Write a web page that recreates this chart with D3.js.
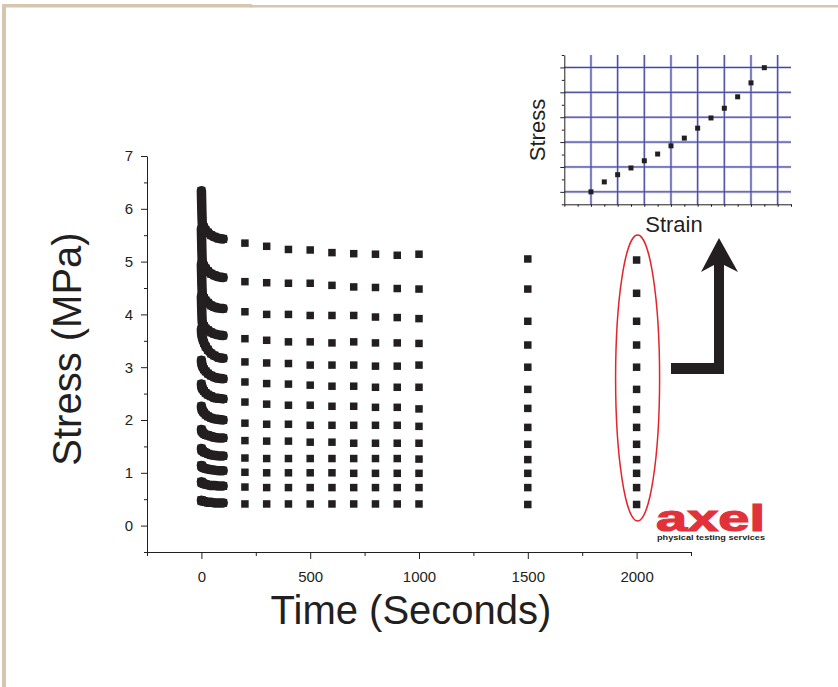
<!DOCTYPE html>
<html><head><meta charset="utf-8">
<script src="https://cdn.jsdelivr.net/npm/d3@7"></script>
<style>body{margin:0;background:#fff}svg{display:block}text{font-family:"Liberation Sans",Arial,sans-serif}</style>
</head><body>
<script>
// ---------- DATA ----------
const earlyTimes = [0, 1, 2, 4, 7, 12, 20, 30, 45, 60, 80, 100];
const lateTimes = [200, 300, 400, 500, 600, 700, 800, 900, 1000, 1500, 2000];
const earlyStress = [
  [6.34, 6.16, 5.98, 5.73, 5.68, 5.65, 5.59, 5.55, 5.50, 5.47, 5.44, 5.43],
  [5.62, 5.44, 5.25, 5.00, 4.96, 4.92, 4.87, 4.82, 4.77, 4.74, 4.71, 4.70],
  [4.95, 4.78, 4.61, 4.39, 4.35, 4.31, 4.26, 4.22, 4.17, 4.14, 4.12, 4.11],
  [4.34, 4.19, 4.04, 3.84, 3.81, 3.78, 3.73, 3.70, 3.66, 3.63, 3.61, 3.60],
  [3.72, 3.64, 3.61, 3.57, 3.52, 3.46, 3.39, 3.33, 3.26, 3.22, 3.18, 3.17],
  [3.13, 3.08, 3.06, 3.03, 3.00, 2.96, 2.92, 2.88, 2.84, 2.81, 2.79, 2.78],
  [2.68, 2.64, 2.62, 2.60, 2.58, 2.55, 2.51, 2.48, 2.45, 2.42, 2.41, 2.40],
  [2.26, 2.22, 2.21, 2.19, 2.16, 2.14, 2.10, 2.07, 2.04, 2.02, 2.01, 2.00],
  [1.82, 1.80, 1.79, 1.78, 1.76, 1.74, 1.72, 1.71, 1.69, 1.67, 1.66, 1.66],
  [1.46, 1.44, 1.43, 1.42, 1.41, 1.39, 1.38, 1.36, 1.34, 1.33, 1.32, 1.32],
  [1.14, 1.13, 1.12, 1.11, 1.10, 1.09, 1.08, 1.07, 1.06, 1.05, 1.04, 1.04],
  [0.83, 0.82, 0.81, 0.81, 0.80, 0.79, 0.78, 0.77, 0.76, 0.76, 0.75, 0.75],
  [0.48, 0.47, 0.47, 0.47, 0.46, 0.46, 0.45, 0.44, 0.44, 0.43, 0.43, 0.43]
];
const lateStress = [
  [5.35, 5.29, 5.23, 5.22, 5.17, 5.15, 5.14, 5.12, 5.14, 5.05, 5.03],
  [4.62, 4.60, 4.59, 4.59, 4.55, 4.52, 4.51, 4.49, 4.48, 4.48, 4.40],
  [4.05, 4.00, 4.00, 3.98, 3.98, 3.98, 3.95, 3.94, 3.92, 3.87, 3.87],
  [3.54, 3.51, 3.48, 3.48, 3.46, 3.48, 3.46, 3.46, 3.45, 3.42, 3.42],
  [3.10, 3.08, 3.07, 3.04, 3.04, 3.04, 3.02, 3.02, 3.04, 3.00, 3.00],
  [2.72, 2.69, 2.68, 2.66, 2.64, 2.64, 2.62, 2.62, 2.62, 2.58, 2.58],
  [2.34, 2.30, 2.28, 2.28, 2.26, 2.26, 2.24, 2.24, 2.21, 2.22, 2.20],
  [1.94, 1.92, 1.92, 1.90, 1.90, 1.90, 1.90, 1.90, 1.88, 1.86, 1.86],
  [1.61, 1.60, 1.60, 1.58, 1.58, 1.56, 1.56, 1.56, 1.56, 1.54, 1.54],
  [1.28, 1.27, 1.27, 1.27, 1.27, 1.27, 1.27, 1.27, 1.26, 1.25, 1.25],
  [1.01, 1.00, 1.00, 1.00, 1.00, 0.99, 0.99, 0.99, 0.99, 0.99, 0.99],
  [0.73, 0.72, 0.72, 0.72, 0.72, 0.72, 0.72, 0.72, 0.72, 0.72, 0.72],
  [0.41, 0.41, 0.41, 0.41, 0.41, 0.41, 0.41, 0.41, 0.41, 0.40, 0.40]
];
const xMajorTicks = [0, 500, 1000, 1500, 2000];
const xMinorTicks = [-250, 250, 750, 1250, 1750, 2250];
const yMajorTicks = [0, 1, 2, 3, 4, 5, 6, 7];
const yMinorTicks = [-0.5, 0.5, 1.5, 2.5, 3.5, 4.5, 5.5, 6.5];
const xTitle = "Time (Seconds)";
const yTitle = "Stress (MPa)";

const insetStrain = [1.0, 1.5, 2.0, 2.5, 3.0, 3.5, 4.0, 4.5, 5.0, 5.5, 6.0, 6.5, 7.0, 7.5];
const insetStress = [1.00, 1.40, 1.69, 1.96, 2.25, 2.52, 2.85, 3.16, 3.56, 3.97, 4.36, 4.82, 5.38, 5.99];
const insetXGrid = [1, 2, 3, 4, 5, 6, 7, 8];
const insetYGrid = [1, 2, 3, 4, 5, 6];
const insetXLabel = "Strain";
const insetYLabel = "Stress";
const highlightTime = 2000;

// ---------- DRAW ----------
const W = 838, H = 687;
const ink = "#231f20";
const svg = d3.select("body").append("svg").attr("width", W).attr("height", H);
svg.append("rect").attr("width", W).attr("height", H).attr("fill", "#fff");

// page frame
svg.append("rect").attr("x", 2).attr("y", 4).attr("width", 250).attr("height", 3.5).attr("fill", "#d8c5b0");
svg.append("rect").attr("x", 250).attr("y", 5).attr("width", W - 250).attr("height", 2.5).attr("fill", "#d8c5b0");
svg.append("rect").attr("x", 2).attr("y", 4).attr("width", 4).attr("height", H).attr("fill", "#d8c5b0");

const x = d3.scaleLinear().domain([-250, 2250]).range([147, 691]);
const y = d3.scaleLinear().domain([-0.5, 7]).range([552, 156]);

function styleAxis(g) {
  g.select(".domain").attr("stroke", ink).attr("stroke-width", 1);
  g.selectAll(".tick line").attr("stroke", ink);
  g.selectAll("text").attr("fill", ink).attr("font-size", 15).attr("font-family", '"Liberation Sans", Arial, sans-serif');
}
// x axis
const gx = svg.append("g").attr("transform", `translate(0,552)`);
gx.call(d3.axisBottom(x).tickValues(xMajorTicks).tickSize(7).tickSizeOuter(0).tickPadding(12).tickFormat(d3.format("d")));
styleAxis(gx);
gx.select(".domain").attr("d", "M144,0.5H691.5");
svg.append("g").attr("transform", `translate(0,552)`)
  .call(d3.axisBottom(x).tickValues(xMinorTicks).tickSize(4).tickFormat(""))
  .call(g => { g.select(".domain").remove(); g.selectAll("line").attr("stroke", ink); });

// y axis
const gy = svg.append("g").attr("transform", `translate(147,0)`);
gy.call(d3.axisLeft(y).tickValues(yMajorTicks).tickSize(6).tickSizeOuter(0).tickPadding(8).tickFormat(d3.format("d")));
styleAxis(gy);
svg.append("g").attr("transform", `translate(147,0)`)
  .call(d3.axisLeft(y).tickValues(yMinorTicks).tickSize(3).tickFormat(""))
  .call(g => { g.select(".domain").remove(); g.selectAll("line").attr("stroke", ink); });

// titles
svg.append("text").attr("x", 411).attr("y", 624).attr("text-anchor", "middle")
  .attr("font-size", 40).attr("fill", ink).text(xTitle);
svg.append("text").attr("transform", "translate(81,349) rotate(-90)").attr("text-anchor", "middle")
  .attr("font-size", 40).attr("fill", ink).text(yTitle);

// data
const line = d3.line().curve(d3.curveMonotoneX).x(d => x(d[0])).y(d => y(d[1]));
const marks = svg.append("g");
const sq = 7.5;
earlyStress.forEach((row, i) => {
  const pts = earlyTimes.map((t, j) => [t, row[j]]);
  marks.append("path").attr("d", line(pts)).attr("fill", "none").attr("stroke", ink)
    .attr("stroke-width", 9.5).attr("stroke-linejoin", "round").attr("stroke-linecap", "round");
  marks.selectAll(null).data(pts).enter().append("rect")
    .attr("x", d => x(d[0]) - 4).attr("y", d => y(d[1]) - 4)
    .attr("width", 8).attr("height", 8).attr("fill", ink);
});
lateStress.forEach(row => {
  const pts = lateTimes.map((t, j) => [t, row[j]]);
  marks.selectAll(null).data(pts).enter().append("rect")
    .attr("x", d => x(d[0]) - sq / 2).attr("y", d => y(d[1]) - sq / 2)
    .attr("width", sq).attr("height", sq).attr("fill", ink);
});

// highlight ellipse around the 2000 s column
svg.append("ellipse").attr("cx", x(highlightTime) + 1).attr("cy", 378).attr("rx", 22).attr("ry", 143)
  .attr("fill", "none").attr("stroke", "#e3242b").attr("stroke-width", 1.5);

// arrow
svg.append("path")
  .attr("d", "M719,238 L738,272 L724,265 L724,374 L671,374 L671,363 L714,363 L714,265 L701,272 Z")
  .attr("fill", ink);

// logo
svg.append("text").attr("x", 656).attr("y", 531).attr("font-family", '"DejaVu Sans", sans-serif')
  .attr("font-weight", "bold").attr("font-size", 37).attr("fill", "#e1323c")
  .attr("stroke", "#e1323c").attr("stroke-width", 1.2)
  .attr("textLength", 109).attr("lengthAdjust", "spacingAndGlyphs").text("axel");
svg.append("text").attr("x", 657).attr("y", 540).attr("font-family", '"DejaVu Sans", sans-serif')
  .attr("font-weight", "bold").attr("font-size", 7).attr("fill", ink)
  .attr("textLength", 108).attr("lengthAdjust", "spacingAndGlyphs").text("physical testing services");

// ---------- INSET ----------
const ix = d3.scaleLinear().domain([0, 8.5]).range([564.3, 791]);
const iy = d3.scaleLinear().domain([0.5, 6.5]).range([204.3, 55]);
const ig = svg.append("g");
[["#c3c4e6", 2.6], ["#2e3192", 0.9]].forEach(([c, w]) => {
  ig.selectAll(null).data(insetXGrid).enter().append("line")
    .attr("x1", d => ix(d)).attr("x2", d => ix(d)).attr("y1", iy(6.5)).attr("y2", iy(0.5))
    .attr("stroke", c).attr("stroke-width", w);
  ig.selectAll(null).data(insetYGrid).enter().append("line")
    .attr("y1", d => iy(d)).attr("y2", d => iy(d)).attr("x1", ix(0)).attr("x2", ix(8.5))
    .attr("stroke", c).attr("stroke-width", w);
});
const ixa = ig.append("g").attr("transform", `translate(0,${iy(0.5)})`)
  .call(d3.axisBottom(ix).tickValues(d3.range(0, 8.51, 0.5)).tickSize(2.5).tickSizeOuter(0).tickFormat(""));
const iya = ig.append("g").attr("transform", `translate(${ix(0)},0)`)
  .call(d3.axisLeft(iy).tickValues(d3.range(0.5, 6.51, 0.5)).tickSize(2.5).tickSizeOuter(0).tickFormat(""));
[ixa, iya].forEach(g => { g.select(".domain").attr("stroke", ink); g.selectAll("line").attr("stroke", ink); });
iya.selectAll(".tick line").attr("x2", d => Number.isInteger(d) ? -4 : -2.5);
ig.selectAll(null).data(insetStrain.map((s, i) => [s, insetStress[i]])).enter().append("rect")
  .attr("x", d => ix(d[0]) - 2.5).attr("y", d => iy(d[1]) - 2.5).attr("width", 5).attr("height", 5).attr("fill", ink);
ig.append("text").attr("x", 674).attr("y", 232).attr("text-anchor", "middle").attr("font-size", 22)
  .attr("fill", ink).text(insetXLabel);
ig.append("text").attr("transform", "translate(545,130) rotate(-90)").attr("text-anchor", "middle")
  .attr("font-size", 22).attr("fill", ink).text(insetYLabel);
</script>
</body></html>
